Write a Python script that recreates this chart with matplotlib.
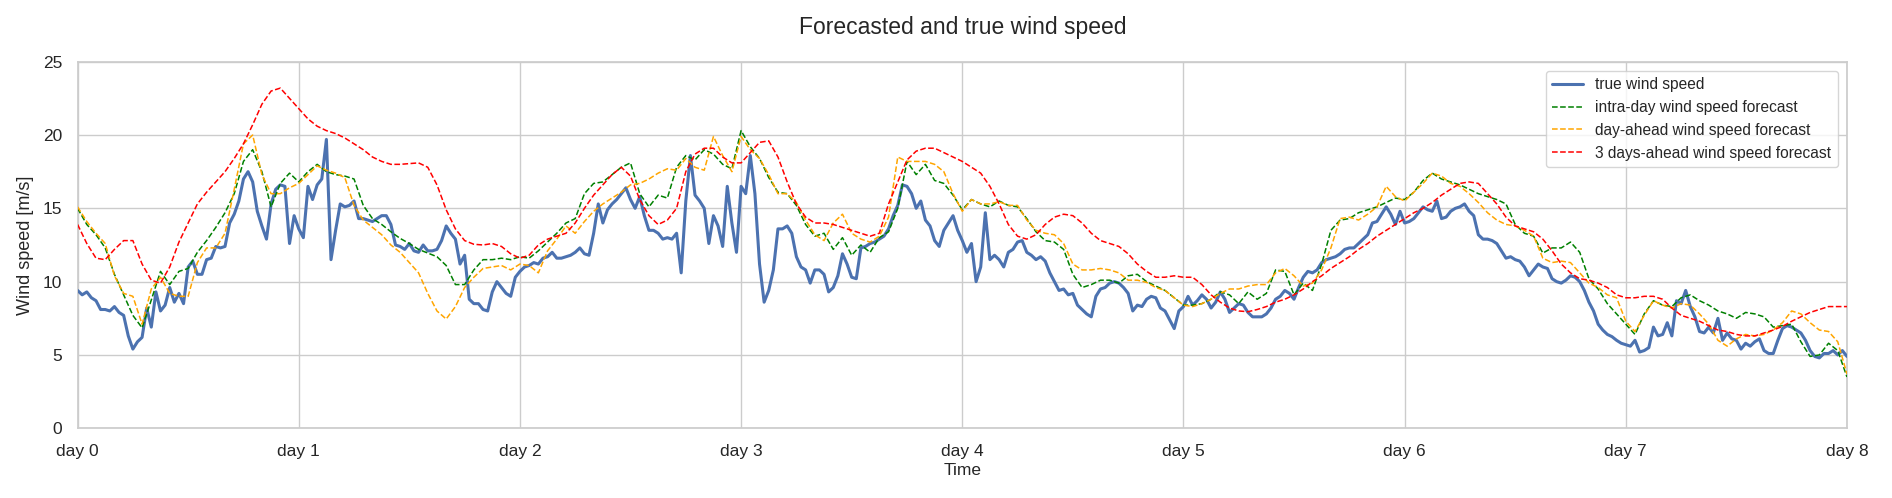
import numpy as np
import matplotlib
matplotlib.use("Agg")
import matplotlib.pyplot as plt
import seaborn as sns

# ---------------- data ----------------
# true wind speed, sampled every 30 minutes (48 per day), day 0 .. day 8
true_speed = [
    # day 0
    9.4, 9.1, 9.3, 8.9, 8.7, 8.1, 8.1, 8.0, 8.3, 7.9, 7.7, 6.3, 5.4, 5.9, 6.2, 8.2,
    6.9, 9.3, 8.0, 8.4, 9.6, 8.6, 9.2, 8.5, 11.0, 11.4, 10.5, 10.5, 11.5, 11.6, 12.4, 12.3,
    12.4, 14.0, 14.6, 15.5, 17.0, 17.5, 16.8, 14.8, 13.8, 12.9, 15.3, 16.3, 16.6, 16.5, 12.6, 14.5,
    # day 1
    13.6, 13.0, 16.5, 15.6, 16.6, 17.0, 19.7, 11.5, 13.5, 15.3, 15.1, 15.2, 15.5, 14.3, 14.3, 14.2,
    14.1, 14.3, 14.5, 14.5, 13.9, 12.5, 12.4, 12.2, 12.6, 12.1, 12.0, 12.5, 12.1, 12.1, 12.2, 12.8,
    13.8, 13.3, 12.9, 11.2, 11.8, 8.8, 8.5, 8.5, 8.1, 8.0, 9.3, 10.0, 9.6, 9.2, 9.0, 10.3,
    # day 2
    10.7, 11.0, 11.1, 11.3, 11.2, 11.6, 11.7, 12.0, 11.6, 11.6, 11.7, 11.8, 12.0, 12.3, 11.9, 11.8,
    13.3, 15.3, 14.0, 14.9, 15.3, 15.6, 16.0, 16.4, 15.6, 15.0, 15.8, 14.5, 13.5, 13.5, 13.3, 12.9,
    13.0, 12.9, 13.3, 10.6, 15.5, 18.6, 15.9, 15.5, 15.0, 12.6, 14.5, 13.8, 12.4, 16.5, 14.0, 12.0,
    # day 3
    16.5, 16.0, 18.6, 16.0, 11.2, 8.6, 9.4, 10.8, 13.6, 13.6, 13.8, 13.3, 11.7, 11.0, 10.8, 9.9,
    10.8, 10.8, 10.5, 9.3, 9.6, 10.4, 11.9, 11.2, 10.3, 10.2, 12.3, 12.4, 12.6, 12.7, 12.9, 13.1,
    13.6, 14.5, 15.2, 16.6, 16.5, 16.0, 15.0, 15.5, 14.2, 13.8, 12.8, 12.4, 13.5, 14.0, 14.5, 13.5,
    # day 4
    12.8, 12.0, 12.6, 10.0, 11.0, 14.7, 11.5, 11.8, 11.5, 11.0, 12.0, 12.2, 12.7, 12.8, 12.0, 11.8,
    11.5, 11.7, 11.4, 10.6, 10.0, 9.4, 9.5, 9.1, 9.2, 8.4, 8.1, 7.8, 7.6, 9.0, 9.5, 9.6,
    9.9, 10.0, 9.9, 9.6, 9.2, 8.0, 8.4, 8.3, 8.8, 9.0, 8.9, 8.2, 8.0, 7.4, 6.8, 8.0,
    # day 5
    8.3, 9.0, 8.4, 8.7, 9.1, 8.8, 8.2, 8.6, 9.3, 8.8, 7.9, 8.2, 8.5, 8.4, 7.9, 7.6,
    7.6, 7.6, 7.8, 8.2, 8.8, 9.0, 9.4, 9.2, 8.8, 9.6, 10.3, 10.7, 10.6, 10.8, 11.3, 11.5,
    11.6, 11.7, 11.9, 12.2, 12.3, 12.3, 12.6, 12.9, 13.2, 14.0, 14.1, 14.6, 15.1, 14.6, 13.9, 14.8,
    # day 6
    14.0, 14.1, 14.3, 14.7, 15.1, 14.9, 14.8, 15.5, 14.3, 14.4, 14.8, 15.0, 15.1, 15.3, 14.8, 14.5,
    13.2, 12.9, 12.9, 12.8, 12.6, 12.1, 11.6, 11.7, 11.5, 11.4, 11.0, 10.4, 10.8, 11.2, 11.0, 10.9,
    10.2, 10.0, 9.9, 10.1, 10.4, 10.3, 10.0, 9.4, 8.6, 8.0, 7.1, 6.7, 6.4, 6.25, 6.0, 5.8,
    # day 7
    5.7, 5.6, 6.0, 5.2, 5.3, 5.5, 6.9, 6.3, 6.4, 7.2, 6.3, 8.7, 8.5, 9.4, 8.3, 7.6,
    6.6, 6.5, 6.9, 6.5, 7.5, 6.0, 6.5, 6.1, 6.0, 5.4, 5.8, 5.6, 5.9, 6.1, 5.3, 5.1,
    5.1, 6.0, 6.8, 7.0, 6.9, 6.7, 6.5, 6.0, 5.3, 4.9, 4.8, 5.1, 5.1, 5.3, 5.0, 5.3,
    # day 8
    4.9,
]

# forecasts, sampled hourly (24 per day), day 0 .. day 8
intraday_forecast = [
    15.0, 13.9, 13.2, 12.3, 10.5, 9.1, 7.7, 6.85, 8.75, 10.7, 9.8, 10.7, 10.9, 12.0, 12.8, 13.7,
    14.7, 16.0, 18.2, 19.0, 17.5, 15.1, 16.7, 17.4,
    16.8, 17.5, 18.0, 17.5, 17.3, 17.2, 17.0, 15.2, 14.3, 13.9, 13.4, 12.95, 12.6, 12.2, 11.95, 11.7,
    11.1, 9.8, 9.8, 10.8, 11.5, 11.5, 11.6, 11.5,
    11.7, 11.6, 12.1, 12.7, 13.3, 14.0, 14.3, 16.0, 16.7, 16.8, 17.3, 17.8, 18.1, 16.0, 15.1, 15.9,
    15.7, 17.8, 18.6, 18.3, 19.0, 18.7, 18.0, 17.7,
    20.3, 19.2, 18.4, 17.1, 16.1, 16.0, 15.2, 13.9, 13.1, 13.3, 12.2, 13.0, 11.8, 12.5, 12.0, 13.0,
    13.4, 15.0, 18.2, 17.3, 18.0, 16.9, 16.7, 15.9,
    14.9, 15.6, 15.3, 15.1, 15.5, 15.2, 15.1, 14.3, 13.4, 12.8, 12.7, 12.2, 10.5, 9.6, 9.8, 10.1,
    10.1, 9.9, 10.4, 10.5, 10.0, 9.7, 9.4, 8.9,
    8.4, 8.4, 8.5, 8.8, 9.3, 9.1, 8.5, 9.3, 8.8, 9.2, 10.8, 10.7, 9.1, 9.9, 9.4, 11.2,
    13.5, 14.2, 14.3, 14.7, 14.9, 15.1, 15.4, 15.7,
    15.6, 16.1, 16.9, 17.4, 17.0, 16.8, 16.6, 16.3, 16.0, 15.8, 15.6, 15.3, 13.9, 13.3, 13.1, 11.95,
    12.3, 12.3, 12.7, 12.0, 10.2, 9.5, 8.5, 7.8,
    7.1, 6.4, 7.8, 8.7, 8.4, 8.3, 8.9, 9.1, 8.7, 8.4, 8.0, 7.8, 7.5, 7.9, 7.8, 7.6,
    6.9, 7.0, 7.1, 5.9, 4.9, 5.0, 5.8, 5.3,
    3.5,
]

day_ahead_forecast = [
    15.1, 14.1, 13.3, 12.6, 10.4, 9.2, 9.0, 7.1, 9.5, 10.3, 9.2, 9.0, 9.0, 11.3, 12.3, 12.3,
    13.3, 16.3, 19.4, 20.0, 17.3, 16.0, 16.0, 16.4,
    16.7, 17.3, 17.9, 17.6, 17.4, 17.1, 15.2, 14.2, 13.7, 13.2, 12.5, 12.0, 11.3, 10.6, 9.2, 8.0,
    7.45, 8.3, 9.6, 10.3, 10.9, 11.0, 11.1, 10.8,
    11.2, 11.1, 10.6, 12.1, 12.9, 13.8, 13.3, 14.1, 14.8, 15.3, 15.7, 16.1, 16.6, 16.7, 17.0, 17.4,
    17.7, 17.6, 18.4, 17.8, 17.6, 19.9, 18.6, 17.5,
    19.9, 19.0, 18.4, 17.3, 16.0, 16.0, 15.4, 14.2, 13.2, 12.8, 14.0, 14.6, 13.3, 12.9, 12.7, 13.1,
    14.4, 18.5, 18.2, 18.2, 18.2, 18.0, 17.5, 16.0,
    14.8, 15.6, 15.3, 15.3, 15.45, 15.2, 15.2, 14.2, 13.5, 13.3, 13.2, 12.6, 11.2, 10.8, 10.8, 10.9,
    10.8, 10.6, 10.1, 10.1, 9.95, 9.6, 9.4, 8.9,
    8.4, 8.3, 8.5, 8.8, 9.2, 9.5, 9.5, 9.7, 9.8, 9.8, 10.6, 10.9, 10.4, 9.7, 9.9, 10.8,
    12.3, 14.3, 14.4, 14.2, 14.6, 15.1, 16.5, 15.8,
    15.5, 16.1, 16.7, 17.4, 17.2, 16.7, 16.5, 16.0, 15.4, 14.7, 14.2, 13.9, 13.8, 13.5, 13.1, 11.6,
    11.3, 11.4, 11.3, 10.6, 9.9, 9.6, 9.1, 8.9,
    7.3, 6.6, 7.7, 8.7, 8.4, 8.2, 8.5, 8.4, 7.8, 7.1, 6.0, 5.6, 6.1, 6.4, 6.3, 6.4,
    6.7, 7.2, 8.0, 7.8, 7.2, 6.7, 6.6, 5.9,
    3.7,
]

three_days_ahead_forecast = [
    13.9, 12.6, 11.6, 11.5, 12.2, 12.8, 12.8, 11.2, 10.1, 9.9, 11.0, 12.7, 14.0, 15.3, 16.1, 16.8,
    17.5, 18.4, 19.4, 20.7, 22.1, 23.0, 23.2, 22.5,
    21.8, 21.1, 20.6, 20.3, 20.1, 19.8, 19.4, 19.0, 18.5, 18.2, 18.0, 18.0, 18.05, 18.1, 17.8, 16.6,
    14.9, 13.6, 12.8, 12.55, 12.5, 12.6, 12.4, 11.9,
    11.6, 11.8, 12.5, 12.9, 13.1, 13.3, 14.0, 15.0, 15.9, 16.6, 17.3, 17.8, 17.2, 15.6, 14.5, 13.9,
    14.2, 15.0, 17.5, 18.7, 19.1, 19.1, 18.5, 18.1,
    18.1, 18.8, 19.5, 19.6, 18.5, 16.8, 15.3, 14.4, 14.0, 14.0, 13.9, 13.7, 13.5, 13.3, 13.1, 13.3,
    15.3, 16.8, 18.3, 18.9, 19.1, 19.1, 18.8, 18.5,
    18.2, 17.8, 17.4, 16.5, 15.3, 13.9, 13.1, 12.9, 13.2, 13.9, 14.4, 14.6, 14.5, 14.0, 13.3, 12.8,
    12.6, 12.4, 11.9, 11.2, 10.7, 10.3, 10.3, 10.4,
    10.3, 10.3, 9.8, 9.1, 8.6, 8.2, 8.0, 7.95, 8.1, 8.3, 8.6, 8.8, 9.1, 9.5, 10.0, 10.4,
    10.9, 11.3, 11.7, 12.2, 12.6, 13.1, 13.5, 13.9,
    14.3, 14.7, 15.0, 15.4, 15.9, 16.3, 16.7, 16.8, 16.7, 16.0, 15.3, 14.4, 13.8, 13.6, 13.4, 12.9,
    12.1, 11.2, 10.6, 10.2, 10.1, 9.9, 9.6, 9.1,
    8.9, 8.9, 9.0, 9.0, 8.8, 8.2, 7.7, 7.5, 7.3, 7.0, 6.7, 6.6, 6.4, 6.3, 6.3, 6.5,
    6.7, 6.95, 7.3, 7.6, 7.9, 8.1, 8.3, 8.3,
    8.3,
]

day_ticks = list(range(9))
day_labels = [f"day {d}" for d in day_ticks]

# ---------------- plot ----------------
sns.set_theme(style="whitegrid")
plt.rcParams["font.family"] = ["Liberation Sans", "DejaVu Sans"]

fig = plt.figure(figsize=(18.92, 4.98), dpi=100)
ax = fig.add_axes([0.041, 0.140, 0.9352, 0.7361])

t_true = np.arange(len(true_speed)) / 48.0
t_fc = np.arange(len(intraday_forecast)) / 24.0

ax.plot(t_true, true_speed, color="#4C72B0", lw=2.2, label="true wind speed", zorder=3)
ax.plot(t_fc, intraday_forecast, color="green", lw=1.1, ls="--",
        label="intra-day wind speed forecast", zorder=4)
ax.plot(t_fc, day_ahead_forecast, color="orange", lw=1.1, ls="--",
        label="day-ahead wind speed forecast", zorder=4)
ax.plot(t_fc, three_days_ahead_forecast, color="red", lw=1.1, ls="--",
        label="3 days-ahead wind speed forecast", zorder=4)

ax.set_xlim(0, 8)
ax.set_ylim(0, 25)
ax.set_xticks(day_ticks)
ax.set_xticklabels(day_labels)
ax.set_yticks([0, 5, 10, 15, 20, 25])
ax.tick_params(axis="both", labelsize=12.5, colors=".15", pad=5)
ax.set_xlabel("Time", fontsize=12.5, color=".15", labelpad=3)
ax.set_ylabel("Wind speed [m/s]", fontsize=13, color=".15", labelpad=6)
ax.set_title("Forecasted and true wind speed", fontsize=16.5, color=".15", pad=20)

leg = ax.legend(loc="upper right", fontsize=11.2, frameon=True, borderaxespad=0.6)
leg.get_frame().set_edgecolor(".8")

fig.savefig("out.png", dpi=100)
